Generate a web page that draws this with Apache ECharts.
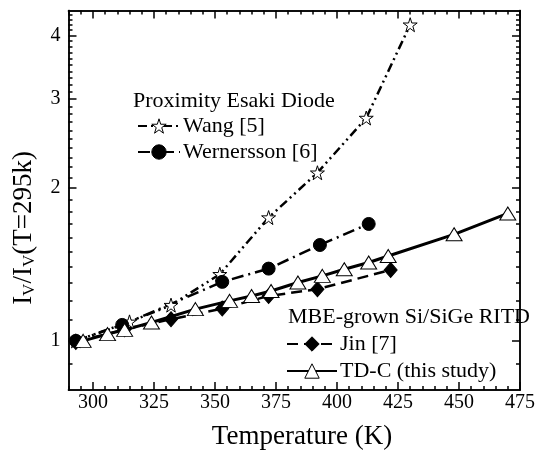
<!DOCTYPE html>
<html><head><meta charset="utf-8">
<script src="https://cdn.jsdelivr.net/npm/echarts@6/dist/echarts.min.js"></script>
<style>html,body{margin:0;padding:0;background:#fff}#c{width:538px;height:460px}</style>
</head><body><div id="c"></div>
<script>
// ---- data ----
const tempWang = [293, 315, 332, 352, 372, 392, 412, 430];
const ratioWang = [1.0, 1.09, 1.176, 1.353, 1.75, 2.145, 2.75, 4.2];
const tempWern = [293, 312, 353, 372, 393, 413];
const ratioWern = [1.0, 1.075, 1.307, 1.388, 1.545, 1.70];
const tempJin = [293, 313, 332, 353, 372, 392, 422];
const ratioJin = [0.995, 1.054, 1.103, 1.158, 1.226, 1.264, 1.38];
const tempTDC = [296, 306, 313, 324, 342, 356, 365, 373, 384, 394, 403, 413, 421, 448, 470];
const ratioTDC = [1.0, 1.031, 1.051, 1.087, 1.155, 1.199, 1.226, 1.254, 1.303, 1.343, 1.384, 1.427, 1.47, 1.622, 1.783];
const xMajorTicks = [300, 325, 350, 375, 400, 425, 450, 475];
const xMinorTicks = [290, 295, 305, 310, 315, 320, 330, 335, 340, 345, 355, 360, 365, 370, 380, 385, 390, 395, 405, 410, 415, 420, 430, 435, 440, 445, 455, 460, 465, 470];
const yMajorTicks = [1, 2, 3, 4];
const yMinorTicks = [0.9, 1.1, 1.2, 1.3, 1.4, 1.5, 1.6, 1.7, 1.8, 1.9, 2.1, 2.2, 2.3, 2.4, 2.5, 2.6, 2.7, 2.8, 2.9, 3.1, 3.2, 3.3, 3.4, 3.5, 3.6, 3.7, 3.8, 3.9, 4.1, 4.2, 4.3, 4.4];
const legendGroup1 = 'Proximity Esaki Diode';
const legendGroup2 = 'MBE-grown Si/SiGe RITD';

const pair = (xs, ys) => xs.map((x, i) => [x, ys[i]]);
const FONT = '"Liberation Serif", "Times New Roman", serif';
const black = '#000';
const axLine = {show: true, onZero: false, lineStyle: {color: black, width: 1.5}};
const X_MIN = 290, X_MAX = 475, Y_MIN = 0.8, Y_MAX = 4.48;

function xAx(pos, ticks, len, labels) {
  return {type: 'value', position: pos, min: X_MIN, max: X_MAX, axisLine: axLine,
    splitLine: {show: false},
    axisTick: {show: true, inside: true, length: len, customValues: ticks, lineStyle: {color: black, width: 1.5}},
    axisLabel: labels ? {show: true, customValues: ticks, margin: 3, color: black, fontFamily: FONT, fontSize: 20} : {show: false}};
}
function yAx(pos, ticks, len, labels) {
  return {type: 'log', logBase: 10, position: pos, min: Y_MIN, max: Y_MAX, axisLine: axLine,
    splitLine: {show: false}, minorTick: {show: false},
    axisTick: {show: true, inside: true, length: len, customValues: ticks, lineStyle: {color: black, width: 1.5}},
    axisLabel: labels ? {show: true, customValues: ticks, margin: 8, color: black, fontFamily: FONT, fontSize: 20,
      formatter: v => String(Math.round(v))} : {show: false}};
}

const starPath = 'path://M50,2 L61,36 L97,36 L68,57 L79,92 L50,71 L21,92 L32,57 L3,36 L39,36 Z';
const legText = {fontFamily: FONT, fontSize: 22, color: black, lineHeight: 22, padding: [0, 0, 0, -2]};

const chart = echarts.init(document.getElementById('c'), null, {renderer: 'canvas'});
chart.setOption({
  animation: false,
  backgroundColor: '#fff',
  grid: {left: 68.5, right: 11.5, top: 10.5, bottom: 70},
  xAxis: [xAx('bottom', xMajorTicks, 8, true), xAx('bottom', xMinorTicks, 4, false),
          xAx('top', xMajorTicks, 8, false), xAx('top', xMinorTicks, 4, false)],
  yAxis: [yAx('left', yMajorTicks, 8, true), yAx('left', yMinorTicks, 4, false),
          yAx('right', yMajorTicks, 8, false), yAx('right', yMinorTicks, 4, false)],
  legend: [
    {data: ['Wang [5]', 'Wernersson [6]'], orient: 'vertical', left: 137, top: 115, padding: 0,
     itemWidth: 42, itemHeight: 18, itemGap: 4, selectedMode: false, textStyle: legText,
     itemStyle: {borderWidth: 1}},
    {data: ['Jin [7]', 'TD-C (this study)'], orient: 'vertical', left: 286, top: 333, padding: 0,
     itemWidth: 50, itemHeight: 18, itemGap: 5, selectedMode: false, textStyle: legText,
     itemStyle: {borderWidth: 1}}
  ],
  graphic: [
    {type: 'text', left: 133, top: 90, style: {text: legendGroup1, font: '22px ' + FONT, fill: black}},
    {type: 'text', left: 288, top: 306, style: {text: legendGroup2, font: '22px ' + FONT, fill: black}},
    {type: 'text', x: 302, y: 437, style: {text: 'Temperature (K)', font: '27px ' + FONT, fill: black,
      align: 'center', verticalAlign: 'middle'}},
    {type: 'text', x: 24, y: 228, rotation: Math.PI / 2,
     style: {text: 'I{s|V}/I{s|V}(T=295k)', font: '27px ' + FONT, fill: black, align: 'center', verticalAlign: 'middle',
       rich: {s: {font: '17px ' + FONT, fill: black, padding: [12, 0, 0, 0]}}}}
  ],
  series: [
    {name: 'Wang [5]', type: 'line', data: pair(tempWang, ratioWang), symbol: starPath, symbolSize: 14,
     lineStyle: {color: black, width: 2.5, type: [9, 4, 2, 4, 2, 4]},
     itemStyle: {color: '#fff', borderColor: black, borderWidth: 1}},
    {name: 'Wernersson [6]', type: 'line', data: pair(tempWern, ratioWern), symbol: 'circle', symbolSize: 13,
     lineStyle: {color: black, width: 2.5, type: [12, 5, 2, 5]},
     itemStyle: {color: black, borderColor: black}},
    {name: 'Jin [7]', type: 'line', data: pair(tempJin, ratioJin), symbol: 'diamond', symbolSize: [13, 15],
     lineStyle: {color: black, width: 2.5, type: [11, 6]},
     itemStyle: {color: black, borderColor: black}},
    {name: 'TD-C (this study)', type: 'line', data: pair(tempTDC, ratioTDC), symbol: 'triangle', symbolSize: [16, 13],
     lineStyle: {color: black, width: 3, type: 'solid'},
     itemStyle: {color: '#fff', borderColor: black, borderWidth: 1}}
  ]
});
</script></body></html>
